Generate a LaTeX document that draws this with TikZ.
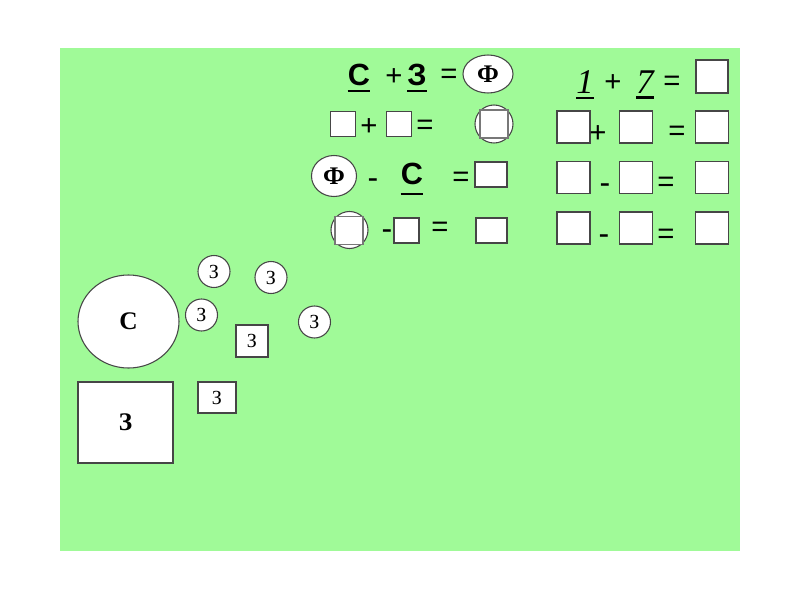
\documentclass[tikz,border=0pt]{standalone}
\usepackage{fontspec}
\setmainfont{Liberation Serif}
\newfontfamily\arialf{Liberation Sans}
\usetikzlibrary{shapes.geometric}
\definecolor{bg}{RGB}{160,250,152}
\definecolor{edge}{RGB}{70,70,70}
\definecolor{edgeg}{RGB}{120,120,120}
\begin{document}
\begin{tikzpicture}[x=0.75pt,y=-0.75pt,
  box/.style={draw=edge, fill=white, line width=0.8pt, inner sep=0pt},
  rb/.style 2 args={box, rectangle, minimum width=#1*0.75pt, minimum height=#2*0.75pt},
  sqg/.style={box, draw=edgeg, rectangle, minimum width=#1*0.75pt, minimum height=#1*0.75pt},
  circ/.style={box, circle, minimum size=#1*0.75pt},
  ell/.style 2 args={box, ellipse, minimum width=#1*0.75pt, minimum height=#2*0.75pt},
  ab/.style={inner sep=0pt, font=\arialf\bfseries\fontsize{23}{23}\selectfont},
  op/.style={inner sep=0pt, font=\arialf\fontsize{22}{22}\selectfont},
  hy/.style={inner sep=0pt, font=\arialf\fontsize{24}{24}\selectfont},
  ti/.style={inner sep=0pt, font=\itshape\fontsize{26}{26}\selectfont},
  fb/.style={font=\bfseries\fontsize{19}{19}\selectfont},
  sm/.style={font=\fontsize{15}{15}\selectfont},
  big/.style={font=\bfseries\fontsize{19}{19}\selectfont},
  ul/.style={line width=1.7pt}]
\useasboundingbox (0,0) rectangle (800,600);
\fill[bg] (60,48) rectangle (740,551);

% row 1 left
\node[ab] (c1) at (359,75) {С};
\node[op] (p1) at (394,77) {+};
\node[ab] (z1) at (417,75) {З};
\node[op] (e1) at (449,76) {=};
\node[ell={50}{38}, fb] (f1) at (488,74) {Ф};
\draw[ul] ([yshift=-3.5pt]c1.south west) -- ([yshift=-3.5pt]c1.south east);
\draw[ul] ([yshift=-3.5pt]z1.south west) -- ([yshift=-3.5pt]z1.south east);

% row 2 left
\node[rb={25}{25}] (a21) at (343,124) {};
\node[op] (p2) at (369,127) {+};
\node[rb={25}{25}] (a22) at (399,124) {};
\node[op] (e2) at (425,127) {=};
\node[circ=38] (o2) at (494,124) {};
\node[sqg=28] (o2s) at (494,124) {};

% row 3 left
\node[ell={45}{41}, fb] (f3) at (334,176) {Ф};
\node[hy] (m3) at (373,184) {-};
\node[ab] (c3) at (412,174) {С};
\draw[ul] ([yshift=-6.5pt]c3.south west) -- ([yshift=-6.5pt]c3.south east);
\node[op] (e3) at (461,179) {=};
\node[rb={32}{25}] (a3) at (491,174.5) {};

% row 4 left
\node[circ=37] (o4) at (349.5,230) {};
\node[sqg=28] (o4s) at (349,230.5) {};
\node[hy] (m4) at (387,235) {-};
\node[rb={25}{25}] (a42) at (406.5,230.5) {};
\node[op] (e4) at (440,229) {=};
\node[rb={31}{25}] (a43) at (491.5,230.5) {};

% right column
\node[ti] (one) at (585,82) {1};
\node[op] (rp1) at (613,83) {+};
\node[ti] (seven) at (645,82) {7};
\node[op] (re1) at (672,83) {=};
\node[rb={32}{33}] (r1) at (712,76.5) {};
\draw[ul] ([yshift=-3pt]one.south west) -- ([yshift=-3pt]one.south east);
\draw[ul] ([yshift=-3pt]seven.south west) -- ([yshift=-3pt]seven.south east);

\node[rb={33}{32}] (r21) at (573.5,127) {};
\node[op] (rp2) at (598,134) {+};
\node[rb={33}{32}] (r22) at (636,127) {};
\node[op] (re2) at (677,133) {=};
\node[rb={33}{32}] (r23) at (712,127) {};

\node[rb={33}{32}] (r31) at (573.5,177.5) {};
\node[hy] (rm3) at (605,189) {-};
\node[rb={33}{32}] (r32) at (636,177.5) {};
\node[op] (re3) at (666,184) {=};
\node[rb={33}{32}] (r33) at (712,177.5) {};

\node[rb={33}{32}] (r41) at (573.5,228) {};
\node[hy] (rm4) at (604,240) {-};
\node[rb={33}{32}] (r42) at (636,228) {};
\node[op] (re4) at (666,236) {=};
\node[rb={33}{32}] (r43) at (712,228) {};

% bottom left
\node[ell={101}{93}, big] (bc) at (128.5,321.5) {С};
\node[rb={95}{81}, big] (bs) at (125.5,422.5) {З};
\node[circ=32, sm] (s1) at (214,271.5) {З};
\node[circ=32, sm] (s2) at (271,277.5) {З};
\node[circ=32, sm] (s3) at (201.5,315) {З};
\node[circ=32, sm] (s4) at (314.5,322) {З};
\node[rb={32}{32}, sm] (q1) at (252,341) {З};
\node[rb={38}{31}, sm] (q2) at (217,397.5) {З};
\end{tikzpicture}
\end{document}
